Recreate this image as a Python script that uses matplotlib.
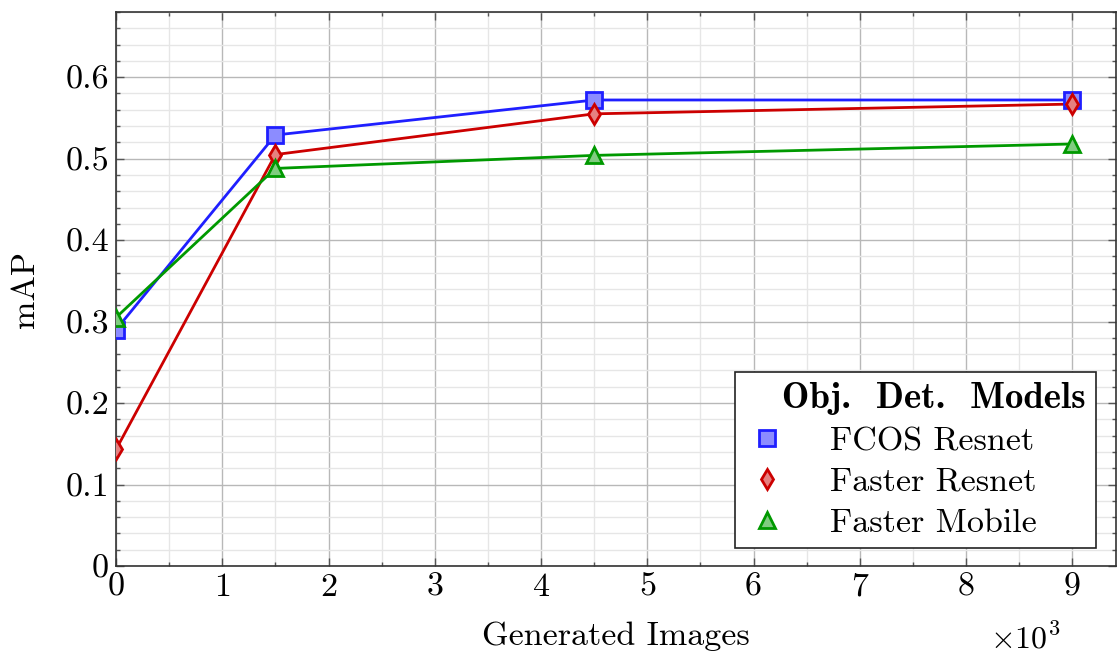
import matplotlib
matplotlib.use('Agg')
import matplotlib.pyplot as plt
from matplotlib.ticker import MultipleLocator, FuncFormatter
from matplotlib.font_manager import FontProperties

# data (x in thousands of generated images)
images = [0, 1.5, 4.5, 9]
fcos_resnet = [0.290, 0.529, 0.572, 0.572]
faster_resnet = [0.143, 0.505, 0.555, 0.567]
faster_mobile = [0.305, 0.488, 0.504, 0.518]
labels = ['FCOS Resnet', 'Faster Resnet', 'Faster Mobile']

plt.rcParams.update({
    'font.family': 'cmr10',
    'mathtext.fontset': 'cm',
    'axes.formatter.use_mathtext': True,
    'font.size': 24.5,
})

fig = plt.figure(figsize=(11.17, 6.55), dpi=100)
ax = fig.add_axes([116/1117, 1 - 566/655, (1116 - 116)/1117, (566 - 12)/655])

styles = [
    dict(color='#1f1fff', marker='s', mfc='#8c8cff', ms=12),
    dict(color='#cc0000', marker='d', mfc='#e68080', ms=10),
    dict(color='#009900', marker='^', mfc='#80cc80', ms=11),
]
series = [fcos_resnet, faster_resnet, faster_mobile]
handles = []
for ys, st, lab in zip(series, styles, labels):
    ax.plot(images, ys, color=st['color'], lw=2, zorder=3)
    h, = ax.plot(images, ys, ls='none', marker=st['marker'], ms=st['ms'],
                 mfc=st['mfc'], mec=st['color'], mew=2, label=lab, zorder=4)
    handles.append(h)

ax.set_xlim(0, 9.41)
ax.set_ylim(0, 0.68)
ax.xaxis.set_major_locator(MultipleLocator(1))
ax.xaxis.set_minor_locator(MultipleLocator(0.5))
ax.yaxis.set_major_locator(MultipleLocator(0.1))
ax.yaxis.set_minor_locator(MultipleLocator(0.02))
ax.xaxis.set_major_formatter(FuncFormatter(lambda v, p: '%d' % round(v)))
ax.yaxis.set_major_formatter(FuncFormatter(lambda v, p: '0' if abs(v) < 1e-9 else ('%.1f' % v)))

ax.grid(which='major', color='#b8b8b8', lw=1.0)
ax.grid(which='minor', color='#e6e6e6', lw=1.0)
ax.set_axisbelow(True)
ax.tick_params(which='both', direction='in', top=True, right=True, color='#555555')
ax.tick_params(which='major', length=6, width=1, pad=5)
ax.tick_params(which='minor', length=3, width=1)
for sp in ax.spines.values():
    sp.set_color('#333333')
    sp.set_linewidth(1.2)

ax.set_xlabel('Generated Images', labelpad=14)
ax.set_ylabel('mAP', labelpad=18)
ax.text(0.909, -0.13, r'$\times10^3$', transform=ax.transAxes, ha='center', va='center', fontsize=23)

leg = ax.legend(handles=handles, loc='lower right', bbox_to_anchor=(0.98, 0.033),
                title='   Obj.  Det.  Models', fancybox=False, framealpha=1,
                edgecolor='#222222', handlelength=1.3, handletextpad=1.2,
                borderpad=0.3, labelspacing=0.32, borderaxespad=0,
                title_fontproperties=FontProperties(family='cmb10', size=26.5))
leg._legend_box.align = 'left'
leg.get_frame().set_linewidth(1.2)

fig.savefig('out.png', dpi=100)
